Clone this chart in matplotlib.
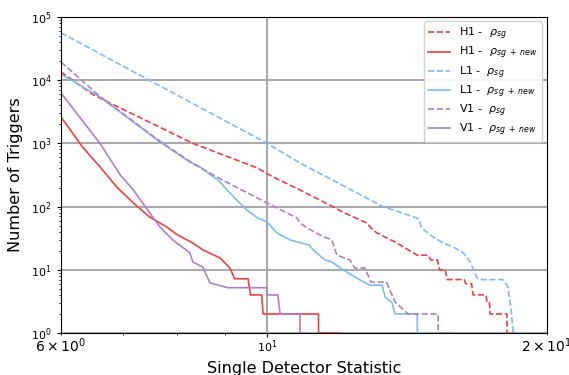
import numpy as np
import matplotlib
matplotlib.use("Agg")
import matplotlib.pyplot as plt

# readings (statistic, number of triggers above it)
h1_sg_x = [6.00, 6.50, 8.32, 9.76, 10.15, 10.85, 11.76, 12.1, 12.8, 13.0, 13.14, 13.80, 14.50, 14.9, 15.0,
           15.25, 15.33, 15.55, 15.62, 16.3, 16.36, 16.6, 16.66, 17.2, 17.25, 17.35, 17.38, 18.12, 18.12, 18.5]
h1_sg_y = [13490, 5860, 1000, 408, 294, 183, 100, 80, 55, 42.5, 38, 26.5, 17, 17, 14.3,
           14.3, 10, 10, 7, 7, 6, 6, 4, 4, 3, 3, 2, 2, 1, 1]

h1_new_x = [6.00, 6.33, 6.61, 6.89, 7.18, 7.48, 7.80, 8.00, 8.32, 8.53, 8.90, 9.12,
            9.23, 9.54, 9.60, 9.87, 9.90, 11.36, 11.36, 11.9]
h1_new_y = [2630, 875, 425, 204, 114, 68, 47.5, 36, 26.5, 20.6, 15.4, 10.7,
            7.2, 7.2, 4, 4, 2, 2, 1, 1]

l1_sg_x = [6.00, 10.0, 10.85, 13.32, 14.50, 14.60, 14.66, 15.09, 15.47, 15.86, 16.26, 16.54, 16.83,
           16.96, 17.95, 18.15, 18.3, 18.4, 18.8]
l1_sg_y = [56000, 1000, 490, 100, 66, 57, 46, 33, 26.5, 23, 18.5, 13.3, 7.4,
           7, 7, 5.5, 2.5, 1, 1]

l1_new_x = [6.00, 6.61, 7.67, 8.26, 8.47, 8.90, 9.12, 9.51, 9.77, 10.0, 10.25, 10.6, 11.1, 11.21, 11.54,
            11.74, 12.07, 12.59, 12.90, 13.30, 13.40, 13.63, 13.73, 14.51, 14.51, 14.8]
l1_new_y = [12500, 5400, 1050, 505, 425, 245, 164, 88, 66, 57, 38, 29.5, 24.6, 20.6, 14.3,
            13.3, 10, 6.9, 5.7, 5.7, 3.7, 3, 2, 2, 1, 1]

v1_sg_x = [6.00, 6.61, 6.89, 7.67, 8.32, 8.95, 10.0, 10.77, 10.85, 11.04, 11.40, 11.74, 11.89, 12.28,
           12.43, 12.74, 12.94, 13.44, 13.73, 14.18, 15.28, 15.28, 15.8]
v1_sg_y = [19400, 5500, 3500, 1080, 480, 263, 114, 66, 55, 46, 35.5, 29.5, 17, 14.3,
           10.7, 10.7, 6.4, 6.4, 3.1, 2, 2, 1, 1]

v1_new_x = [6.00, 6.61, 6.95, 7.18, 7.48, 7.67, 7.92, 8.26, 8.32, 8.53, 8.68, 9.08, 10.0, 10.0,
            10.27, 10.33, 10.85, 10.85, 11.0]
v1_new_y = [6300, 1000, 316, 183, 79, 47.5, 29.5, 18.5, 13.3, 11, 6.2, 5.2, 5.2, 4,
            4, 2, 2, 1, 1]

red = '#f04040'
blue = '#7cbcf8'
purple = '#b07fcc'

fig = plt.figure(figsize=(5.69, 3.75), dpi=100)
ax = fig.add_axes([0.107, 0.112, 0.854, 0.843])

ax.plot(h1_sg_x, h1_sg_y, '--', color=red, lw=1.2, label=r'H1 -  $\rho_{sg}$')
ax.plot(h1_new_x, h1_new_y, '-', color=red, lw=1.2, label=r'H1 -  $\rho_{sg\ +\ new}$')
ax.plot(l1_sg_x, l1_sg_y, '--', color=blue, lw=1.2, label=r'L1 -  $\rho_{sg}$')
ax.plot(l1_new_x, l1_new_y, '-', color=blue, lw=1.2, label=r'L1 -  $\rho_{sg\ +\ new}$')
ax.plot(v1_sg_x, v1_sg_y, '--', color=purple, lw=1.2, label=r'V1 -  $\rho_{sg}$')
ax.plot(v1_new_x, v1_new_y, '-', color=purple, lw=1.2, label=r'V1 -  $\rho_{sg\ +\ new}$')

ax.set_xscale('log')
ax.set_yscale('log')
ax.set_xlim(6, 20)
ax.set_ylim(1, 1e5)
ax.grid(True, which='major', color='#aaaaaa', lw=1.5)
ax.set_axisbelow(True)
ax.tick_params(labelsize=8)
ax.tick_params(axis='x', which='both', pad=1)
ax.tick_params(which='major', length=3)
ax.tick_params(which='minor', length=1.5)
ax.set_xlabel('Single Detector Statistic', fontsize=11.5, labelpad=4)
ax.set_ylabel('Number of Triggers', fontsize=11.5, labelpad=6)
ax.legend(loc='upper right', fontsize=8, framealpha=0.9, labelspacing=0.25,
          borderaxespad=0.4)

plt.savefig('out.png', dpi=100)
